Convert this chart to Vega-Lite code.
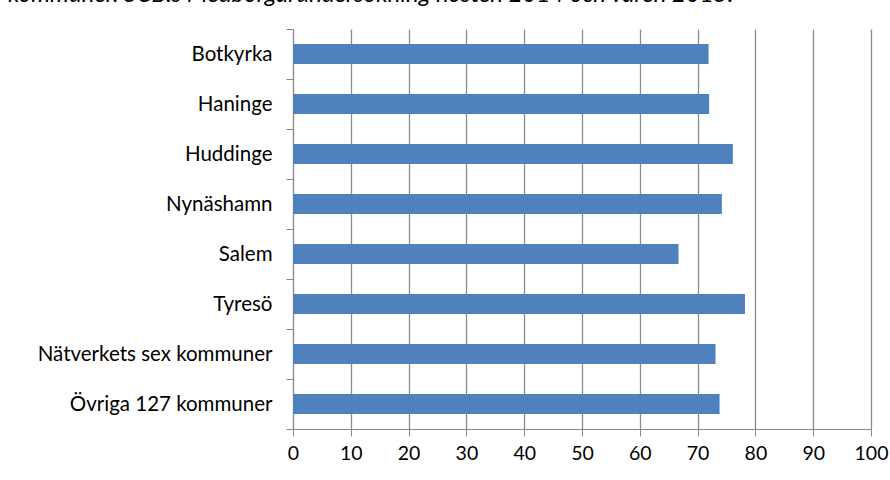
{
  "$schema": "https://vega.github.io/schema/vega-lite/v6.json",
  "autosize": "none",
  "width": 578,
  "height": 400,
  "padding": {"left": 293, "top": 29, "right": 19, "bottom": 51},
  "background": "white",
  "title": {
    "text": "kommuner. SCB:s Medborgarundersökning hösten 2014 och våren 2015.",
    "anchor": "start",
    "frame": "group",
    "dx": -285,
    "offset": 0,
    "dy": 7,
    "baseline": "alphabetic",
    "font": "Lato",
    "fontSize": 24,
    "fontStyle": "italic",
    "fontWeight": "normal",
    "color": "black"
  },
  "data": {
    "values": [
      {"kommun": "Botkyrka", "value": 71.9},
      {"kommun": "Haninge", "value": 72.0},
      {"kommun": "Huddinge", "value": 76.1},
      {"kommun": "Nynäshamn", "value": 74.2},
      {"kommun": "Salem", "value": 66.7},
      {"kommun": "Tyresö", "value": 78.2},
      {"kommun": "Nätverkets sex kommuner", "value": 73.1},
      {"kommun": "Övriga 127 kommuner", "value": 73.8}
    ]
  },
  "mark": {"type": "bar", "color": "#4F81BD", "height": {"band": 0.4}},
  "encoding": {
    "y": {
      "field": "kommun",
      "type": "nominal",
      "sort": null,
      "title": null,
      "scale": {"paddingInner": 0, "paddingOuter": 0},
      "axis": {
        "tickBand": "extent",
        "tickSize": 7,
        "tickColor": "#888888",
        "domainColor": "#888888",
        "labelPadding": 14,
        "labelLimit": 400,
        "labelFont": "Lato",
        "labelFontSize": 20.5,
        "labelColor": "black",
        "grid": false
      }
    },
    "x": {
      "field": "value",
      "type": "quantitative",
      "title": null,
      "scale": {"domain": [0, 100], "nice": false},
      "axis": {
        "values": [0, 10, 20, 30, 40, 50, 60, 70, 80, 90, 100],
        "grid": true,
        "gridColor": "#8c8c8c",
        "gridWidth": 1.3,
        "tickSize": 7,
        "tickColor": "#888888",
        "domainColor": "#888888",
        "labelPadding": 8,
        "labelFont": "Lato",
        "labelFontSize": 19.5,
        "labelColor": "black",
        "labelFlush": false
      }
    }
  },
  "config": {"view": {"stroke": null}}
}
